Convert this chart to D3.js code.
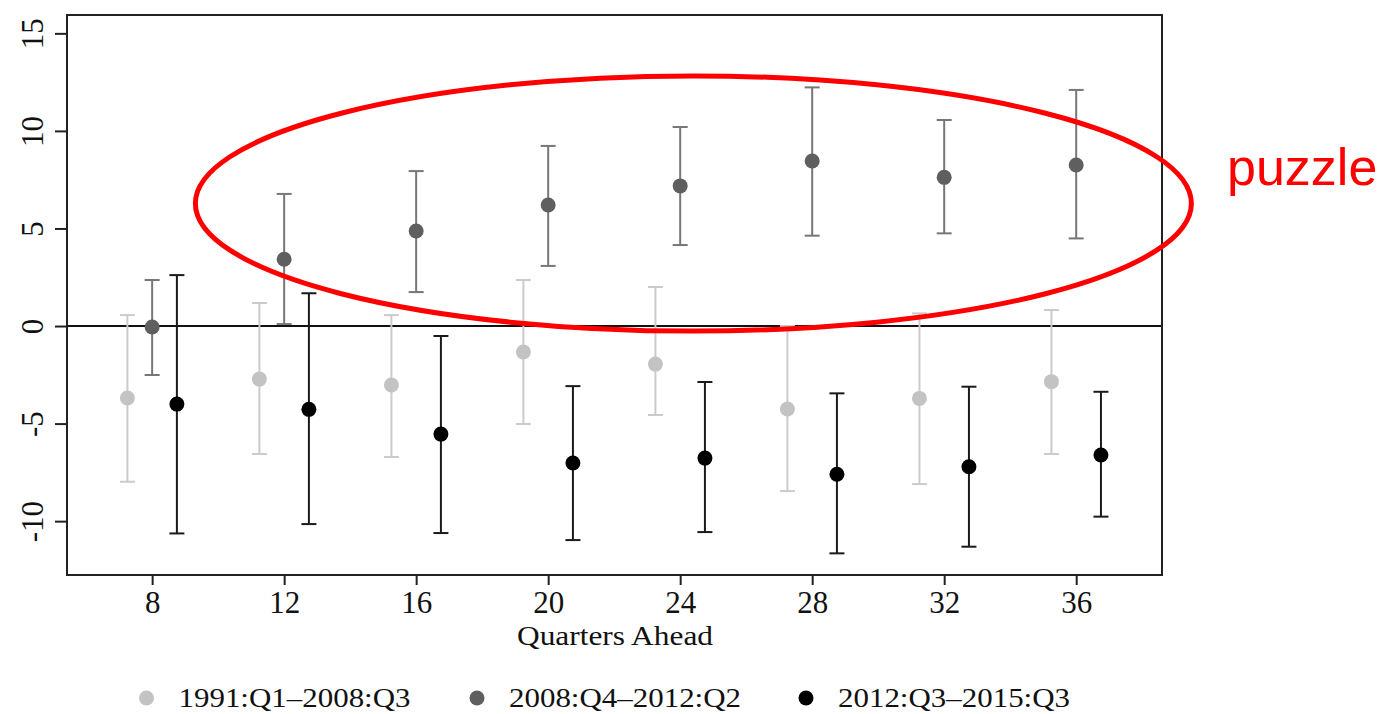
<!DOCTYPE html>
<html>
<head>
<meta charset="utf-8">
<script src="https://cdn.jsdelivr.net/npm/d3@7"></script>
<style>
  html, body { margin: 0; padding: 0; background: #fff; }
  svg { display: block; }
</style>
</head>
<body>
<svg id="chart" width="1383" height="714"></svg>
<script>
// ---- data ----
const quarters = [8, 12, 16, 20, 24, 28, 32, 36];
const seriesNames = ["1991:Q1\u20132008:Q3", "2008:Q4\u20132012:Q2", "2012:Q3\u20132015:Q3"];

const earlyEst = [-3.69, -2.72, -3.02, -1.33, -1.95, -4.25, -3.71, -2.85];
const earlyHi  = [0.56, 1.18, 0.56, 2.36, 2.00, 0.00, 0.65, 0.82];
const earlyLo  = [-7.98, -6.56, -6.71, -5.02, -4.56, -8.46, -8.10, -6.56];

const crisisEst = [-0.05, 3.42, 4.87, 6.20, 7.18, 8.46, 7.62, 8.25];
const crisisHi  = [2.36, 6.77, 7.94, 9.23, 10.20, 12.23, 10.56, 12.10];
const crisisLo  = [-2.51, 0.10, 1.74, 3.08, 4.15, 4.63, 4.75, 4.49];

const lateEst = [-4.00, -4.27, -5.54, -7.02, -6.77, -7.60, -7.21, -6.61];
const lateHi  = [2.61, 1.68, -0.51, -3.08, -2.87, -3.45, -3.11, -3.37];
const lateLo  = [-10.63, -10.15, -10.61, -10.97, -10.56, -11.65, -11.31, -9.77];

const yTicks = [-10, -5, 0, 5, 10, 15];
const xTitle = "Quarters Ahead";
const annotationText = "puzzle";

// ---- layout ----
const svg = d3.select("#chart");
const frame = {left: 67, right: 1162, top: 15, bottom: 575};
const x = d3.scaleLinear().domain([5.42, 38.6]).range([frame.left, frame.right]);
const y = d3.scaleLinear().domain([-12.76, 15.94]).range([frame.bottom, frame.top]);

const serif = "'Liberation Serif', 'Times New Roman', serif";
const textColor = "#111";

const series = [
  {name: seriesNames[0], est: earlyEst, hi: earlyHi, lo: earlyLo, offset: -0.75, dot: "#c3c3c3", bar: "#cbcbcb"},
  {name: seriesNames[1], est: crisisEst, hi: crisisHi, lo: crisisLo, offset: 0, dot: "#5f5f5f", bar: "#777777"},
  {name: seriesNames[2], est: lateEst, hi: lateHi, lo: lateLo, offset: 0.75, dot: "#000000", bar: "#1a1a1a"}
];

// zero line
svg.append("line")
  .attr("x1", frame.left).attr("x2", frame.right)
  .attr("y1", y(0)).attr("y2", y(0))
  .attr("stroke", "#111").attr("stroke-width", 2);

// error bars & points
const capHalf = 7.5;
series.forEach(s => {
  const g = svg.append("g");
  const rows = quarters.map((q, i) => ({q, est: s.est[i], hi: s.hi[i], lo: s.lo[i]}));
  const bar = g.selectAll("g.bar").data(rows).join("g").attr("class", "bar");
  bar.append("line")
    .attr("x1", d => x(d.q + s.offset)).attr("x2", d => x(d.q + s.offset))
    .attr("y1", d => y(d.hi)).attr("y2", d => y(d.lo))
    .attr("stroke", s.bar).attr("stroke-width", 2);
  bar.append("line")
    .attr("x1", d => x(d.q + s.offset) - capHalf).attr("x2", d => x(d.q + s.offset) + capHalf)
    .attr("y1", d => y(d.hi)).attr("y2", d => y(d.hi))
    .attr("stroke", s.bar).attr("stroke-width", 2);
  bar.append("line")
    .attr("x1", d => x(d.q + s.offset) - capHalf).attr("x2", d => x(d.q + s.offset) + capHalf)
    .attr("y1", d => y(d.lo)).attr("y2", d => y(d.lo))
    .attr("stroke", s.bar).attr("stroke-width", 2);
  bar.append("circle")
    .attr("cx", d => x(d.q + s.offset)).attr("cy", d => y(d.est))
    .attr("r", 7.5).attr("fill", s.dot);
});

// frame
svg.append("rect")
  .attr("x", frame.left).attr("y", frame.top)
  .attr("width", frame.right - frame.left).attr("height", frame.bottom - frame.top)
  .attr("fill", "none").attr("stroke", "#222").attr("stroke-width", 2);

// x axis
const xAxis = svg.append("g")
  .attr("transform", `translate(0,${frame.bottom})`)
  .call(d3.axisBottom(x).tickValues(quarters).tickSize(10).tickFormat(d3.format("d")));
xAxis.select(".domain").remove();
xAxis.selectAll(".tick line").attr("stroke", "#222").attr("stroke-width", 2);
xAxis.selectAll(".tick text")
  .attr("y", 38).attr("dy", 0)
  .attr("font-family", serif).attr("font-size", 31).attr("fill", textColor);

// y axis
const yAxis = svg.append("g")
  .attr("transform", `translate(${frame.left},0)`)
  .call(d3.axisLeft(y).tickValues(yTicks).tickSize(12).tickFormat(d3.format("d")));
yAxis.select(".domain").remove();
yAxis.selectAll(".tick line").attr("stroke", "#222").attr("stroke-width", 2);
yAxis.selectAll(".tick text")
  .attr("transform", "rotate(-90)")
  .attr("x", 0).attr("y", -24).attr("dy", 0)
  .attr("text-anchor", "middle")
  .attr("font-family", serif).attr("font-size", 31).attr("fill", textColor)
  .text(d => d < 0 ? "-" + Math.abs(d) : String(d));

// x title
svg.append("text")
  .attr("x", 615).attr("y", 645)
  .attr("text-anchor", "middle")
  .attr("font-family", serif).attr("font-size", 27).attr("fill", textColor)
  .attr("textLength", 196).attr("lengthAdjust", "spacingAndGlyphs")
  .text(xTitle);

// legend
const legendDotX = [146.5, 477, 806];
const legend = svg.append("g");
series.forEach((s, i) => {
  legend.append("circle")
    .attr("cx", legendDotX[i]).attr("cy", 698).attr("r", 7.5).attr("fill", s.dot);
  legend.append("text")
    .attr("x", legendDotX[i] + 32).attr("y", 707)
    .attr("font-family", serif).attr("font-size", 28).attr("fill", textColor)
    .attr("textLength", 232).attr("lengthAdjust", "spacingAndGlyphs")
    .text(s.name);
});

// red annotation ellipse (in data coordinates)
const ell = {cx: 24.4, cy: 6.28, rxQ: 15.09, ryV: 6.54};
svg.append("ellipse")
  .attr("cx", x(ell.cx)).attr("cy", y(ell.cy))
  .attr("rx", x(ell.cx + ell.rxQ) - x(ell.cx))
  .attr("ry", y(ell.cy) - y(ell.cy + ell.ryV))
  .attr("fill", "none").attr("stroke", "#ff0000").attr("stroke-width", 5);

svg.append("text")
  .attr("x", 1227).attr("y", 185)
  .attr("font-family", "'Liberation Sans', Arial, sans-serif")
  .attr("font-size", 52).attr("fill", "#ff0000")
  .text(annotationText);
</script>
</body>
</html>
